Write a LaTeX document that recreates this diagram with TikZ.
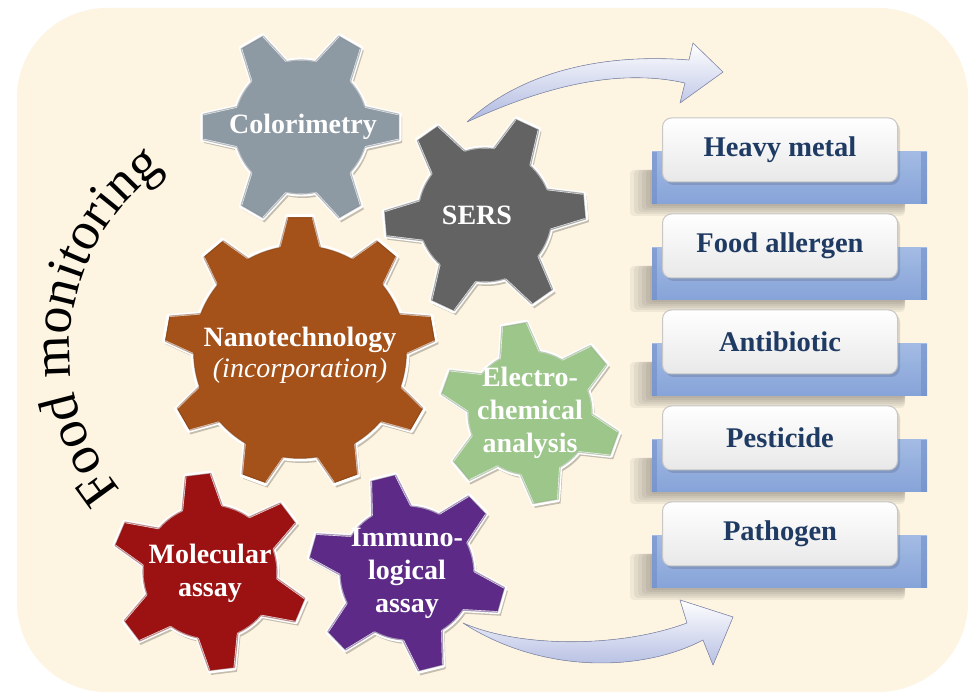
\documentclass[tikz,border=0pt]{standalone}
\usepackage{fontspec}
\setmainfont{Liberation Serif}
\usetikzlibrary{decorations.text}

\definecolor{bgcream}{HTML}{FDF4E1}
\definecolor{gColor}{HTML}{8D99A3}
\definecolor{gSers}{HTML}{636363}
\definecolor{gNano}{HTML}{A4521A}
\definecolor{gElec}{HTML}{9CC68A}
\definecolor{gMol}{HTML}{9C1111}
\definecolor{gImm}{HTML}{5D2B87}
\definecolor{ribbonT}{HTML}{A3BBE4}
\definecolor{ribbonB}{HTML}{86A3D8}
\definecolor{ribbonD}{HTML}{6F8DC8}
\definecolor{itemtxt}{HTML}{1F3B63}
\definecolor{arrowD}{HTML}{AEB8E0}

\tikzset{
  gearlbl/.style={text=white, font=\fontsize{28}{33}\selectfont\bfseries, align=center, inner sep=0pt},
  itembox/.style={draw=black!22, line width=1pt, rounded corners=9pt, top color=white, bottom color=black!9,
    minimum width=235pt, minimum height=64pt, text=itemtxt, font=\fontsize{28.5}{30}\selectfont\bfseries},
  arrowbody/.style={top color=white, bottom color=arrowD, draw=arrowD!80!black, line width=0.6pt, line join=round},
  gearshadow/.style={black, opacity=.22},
  gearface/.style={draw=white, line width=3pt, line join=round}
}

% polygonal gear outline around the origin: #1 teeth, #2 rotation, #3 body radius, #4 tip radius
\newcommand\gearpath[4]{%
  ({#2-\gbw}:#3) \foreach \k in {1,...,#1}{ -- ({#2+(\k-1)*360/#1-\gbw}:#3) -- ({#2+(\k-1)*360/#1-\gtw}:#4)
  -- ({#2+(\k-1)*360/#1+\gtw}:#4) -- ({#2+(\k-1)*360/#1+\gbw}:#3)
  arc[start angle={#2+(\k-1)*360/#1+\gbw}, end angle={#2+\k*360/#1-\gbw}, radius=#3pt]} -- cycle}

% #1 x, #2 y, #3 teeth, #4 rotation, #5 body radius, #6 tip radius, #7 colour
\newcommand\drawgear[7]{%
  \pgfmathsetmacro\gbw{21/#5*57.2958}%
  \pgfmathsetmacro\gtw{13/#6*57.2958}%
  \begin{scope}[shift={(#1,#2)}]
    \fill[gearshadow, shift={(2,-3)}] \gearpath{#3}{#4}{#5}{#6};
    \filldraw[gearface, fill=#7] \gearpath{#3}{#4}{#5}{#6};
    \draw[#7!75!black, line width=1.2pt, opacity=.45, line join=round, scale=0.985] \gearpath{#3}{#4}{#5}{#6};
  \end{scope}}

\begin{document}
\begin{tikzpicture}[x=1pt, y=1pt]
\useasboundingbox (0,0) rectangle (980,698);
\fill[white] (0,0) rectangle (980,698);
\fill[bgcream, rounded corners=90pt] (17,6) rectangle (968,690);

% curved title
\path[decorate, decoration={text along path, text align=center,
  text={|\fontsize{54}{58}\selectfont|Food monitoring}}]
  ([shift={(230:220)}]290,349) arc[start angle=230, end angle=115, radius=220pt];

% arrows
\coordinate (a1s) at (467,576);
\coordinate (a1t) at (723,626);
\fill[arrowbody] (a1s) .. controls (520,625) and (600,645) .. (689,638) -- (693,655) -- (a1t)
  -- (680,595) -- (685,615) .. controls (610,632) and (530,605) .. (a1s) -- cycle;
\coordinate (a2s) at (463,75);
\coordinate (a2t) at (733,81);
\fill[arrowbody] (a2s) .. controls (520,50) and (620,50) .. (687,75) -- (680,98) -- (a2t)
  -- (713,33) -- (703,58) .. controls (640,25) and (540,25) .. (a2s) -- cycle;

% gears
\drawgear{301}{571}{6}{0}{68}{100}{gColor}
\drawgear{485}{483}{6}{5}{68}{102}{gSers}
\drawgear{300}{346}{9}{90}{108}{137}{gNano}
\drawgear{530}{285}{6}{100}{63}{92}{gElec}
\drawgear{210}{126}{6}{97}{68}{100}{gMol}
\drawgear{407}{125}{6}{104}{68}{100}{gImm}

\node[gearlbl] (colorimetry) at (303,571) {Colorimetry};
\node[gearlbl] (sers) at (477,483) {SERS};
\node[gearlbl, font=\fontsize{28}{31}\selectfont\bfseries] (nano) at (300,343) {Nanotechnology\\\mdseries\itshape(incorporation)};
\node[gearlbl] (electro) at (530,285) {Electro-\\chemical\\analysis};
\node[gearlbl] (molecular) at (210,125) {Molecular\\assay};
\node[gearlbl] (immuno) at (407,125) {Immuno-\\logical\\assay};

% target list
\foreach \cy/\txt/\nm in {548/Heavy metal/heavy, 452/Food allergen/allergen, 356/Antibiotic/antibiotic, 260/Pesticide/pesticide, 164/Pathogen/pathogen}{
  \foreach \i in {0,...,5}
    \fill[black, opacity=.05, rounded corners=4pt] (630+4*\i,\cy-66+2*\i) rectangle (905,\cy-20);
  \fill[top color=ribbonT, bottom color=ribbonB] (652,\cy-54) rectangle (927,\cy-2);
  \fill[ribbonD, opacity=.6] (652,\cy-54) rectangle (657,\cy-2);
  \fill[ribbonD, opacity=.6] (921,\cy-54) rectangle (927,\cy-2);
  \fill[black, opacity=.12, rounded corners=9pt] (665,\cy-35) rectangle (900,\cy+29);
  \node[itembox] (\nm) at (780,\cy) {\txt};
}
\end{tikzpicture}
\end{document}
